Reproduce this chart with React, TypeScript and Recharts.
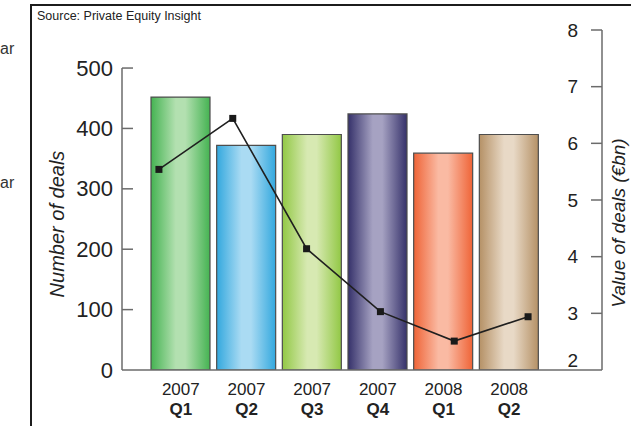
import React from 'react';
import { ComposedChart, Bar, Line, XAxis, YAxis, Cell, ReferenceLine } from 'recharts';

const quarters = ['2007 Q1', '2007 Q2', '2007 Q3', '2007 Q4', '2008 Q1', '2008 Q2'];
const years = ['2007', '2007', '2007', '2007', '2008', '2008'];
const quarterNames = ['Q1', 'Q2', 'Q3', 'Q4', 'Q1', 'Q2'];
const dealCounts = [452, 372, 390, 424, 359, 390];
const dealValues = [5.54, 6.44, 4.14, 3.03, 2.51, 2.94];
const countTicks = [0, 100, 200, 300, 400, 500];
const valueTicks = [2, 3, 4, 5, 6, 7, 8];

// [edge, centre] colour per bar
const barColors = [
	['#45b352', '#b3e0b0'],
	['#33a8de', '#aadbf3'],
	['#92c845', '#d7e9b2'],
	['#35316a', '#a6a2c2'],
	['#ef6437', '#fabaa3'],
	['#b59166', '#e8d9c6'],
];

const data = quarters.map((q, i) => ({
	name: q,
	year: years[i],
	quarter: quarterNames[i],
	deals: dealCounts[i],
	value: dealValues[i],
}));

const FONT = '"Liberation Sans", Arial, sans-serif';
const AXIS_GREY = '#6b6b6b';

const LeftTick = (props: any) => {
	const { x, y, payload } = props;
	return (
		<g>
			{payload.value !== 0 && <line x1={x} x2={x + 11} y1={y} y2={y} stroke={AXIS_GREY} strokeWidth={1.5} />}
			<text x={x - 9} y={y} textAnchor="end" dominantBaseline="central" fontSize={22} fill="#222" fontFamily={FONT}>
				{payload.value}
			</text>
		</g>
	);
};

const RightTick = (props: any) => {
	const { x, y, payload } = props;
	const shift = payload.value === 2 ? -10 : 0;
	return (
		<g>
			{payload.value !== 2 && <line x1={x - 11} x2={x} y1={y} y2={y} stroke={AXIS_GREY} strokeWidth={1.5} />}
			<text x={x - 24} y={y + shift} textAnchor="end" dominantBaseline="central" fontSize={19} fill="#222" fontFamily={FONT}>
				{payload.value}
			</text>
		</g>
	);
};

const QuarterTick = (props: any) => {
	const { x, y, index } = props;
	return (
		<g>
			<text x={x} y={y + 19} textAnchor="middle" dominantBaseline="central" fontSize={17} fill="#222" fontFamily={FONT}>
				{years[index]}
			</text>
			<text x={x} y={y + 39} textAnchor="middle" dominantBaseline="central" fontSize={17} fontWeight="bold" fill="#222" fontFamily={FONT}>
				{quarterNames[index]}
			</text>
		</g>
	);
};

const SquareDot = (props: any) => {
	const { cx, cy, index } = props;
	return <rect key={`dot-${index}`} x={cx - 3.5} y={cy - 3.5} width={7} height={7} fill="#1a1a1a" />;
};

export default function App() {
	return (
		<div style={{ position: 'absolute', left: 0, top: 0, width: 631, height: 426, overflow: 'hidden', background: '#fff', fontFamily: FONT }}>
			<div style={{ position: 'absolute', left: 30, top: 4, width: 700, height: 600, border: '2px solid #1c1c1c' }} />
			<div style={{ position: 'absolute', left: 0, top: 40, fontSize: 16, color: '#333' }}>ar</div>
			<div style={{ position: 'absolute', left: 0, top: 174, fontSize: 16, color: '#333' }}>ar</div>
			<div style={{ position: 'absolute', left: 37, top: 9, fontSize: 12.5, color: '#222', whiteSpace: 'nowrap' }}>
				Source: Private Equity Insight
			</div>
			<div style={{ position: 'absolute', left: 0, top: 0 }}>
				<ComposedChart width={631} height={426} data={data} margin={{ top: 30, right: 0, bottom: 0, left: 0 }}>
					<defs>
						{barColors.map(([edge, centre], i) => (
							<linearGradient key={i} id={`barGrad${i}`} x1="0" y1="0" x2="1" y2="0">
								<stop offset="0%" stopColor={edge} />
								<stop offset="42%" stopColor={centre} />
								<stop offset="58%" stopColor={centre} />
								<stop offset="100%" stopColor={edge} />
							</linearGradient>
						))}
					</defs>
					<XAxis
						xAxisId="bars"
						dataKey="name"
						height={56}
						padding={{ left: 26, right: 60 }}
						axisLine={{ stroke: AXIS_GREY, strokeWidth: 1.5 }}
						tickLine={false}
						tickSize={0}
						tickMargin={0}
						interval={0}
						tick={<QuarterTick />}
					/>
					<XAxis xAxisId="line" dataKey="name" hide padding={{ left: 0, right: 37 }} />
					<XAxis xAxisId="frame" type="number" domain={[0, 1]} hide allowDataOverflow />
					<YAxis
						yAxisId="left"
						width={122}
						domain={[0, 563]}
						ticks={countTicks}
						allowDataOverflow
						axisLine={false}
						tickLine={false}
						tickSize={0}
						tickMargin={0}
						tick={<LeftTick />}
					/>
					<YAxis
						yAxisId="right"
						orientation="right"
						width={29}
						domain={[2, 8]}
						ticks={valueTicks}
						allowDataOverflow
						axisLine={{ stroke: AXIS_GREY, strokeWidth: 1.5 }}
						tickLine={false}
						tickSize={0}
						tickMargin={0}
						tick={<RightTick />}
					/>
					<ReferenceLine
						xAxisId="frame"
						yAxisId="left"
						segment={[{ x: 0, y: 0 }, { x: 0, y: 500 }]}
						stroke={AXIS_GREY}
						strokeWidth={1.5}
					/>
					<Bar xAxisId="bars" yAxisId="left" dataKey="deals" barSize={59} stroke="#4d4d4d" strokeWidth={1.2} isAnimationActive={false}>
						{data.map((_, i) => (
							<Cell key={`bar-${i}`} fill={`url(#barGrad${i})`} />
						))}
					</Bar>
					<Line
						xAxisId="line"
						yAxisId="right"
						dataKey="value"
						stroke="#1f1f1f"
						strokeWidth={1.6}
						dot={<SquareDot />}
						activeDot={false}
						isAnimationActive={false}
					/>
					<text x={64} y={224} transform="rotate(-90 64 224)" textAnchor="middle" fontSize={20} fontStyle="italic" fill="#222" fontFamily={FONT}>
						Number of deals
					</text>
					<text x={625} y={223} transform="rotate(-90 625 223)" textAnchor="middle" fontSize={19} fontStyle="italic" fill="#222" fontFamily={FONT}>
						Value of deals (€bn)
					</text>
				</ComposedChart>
			</div>
		</div>
	);
}
